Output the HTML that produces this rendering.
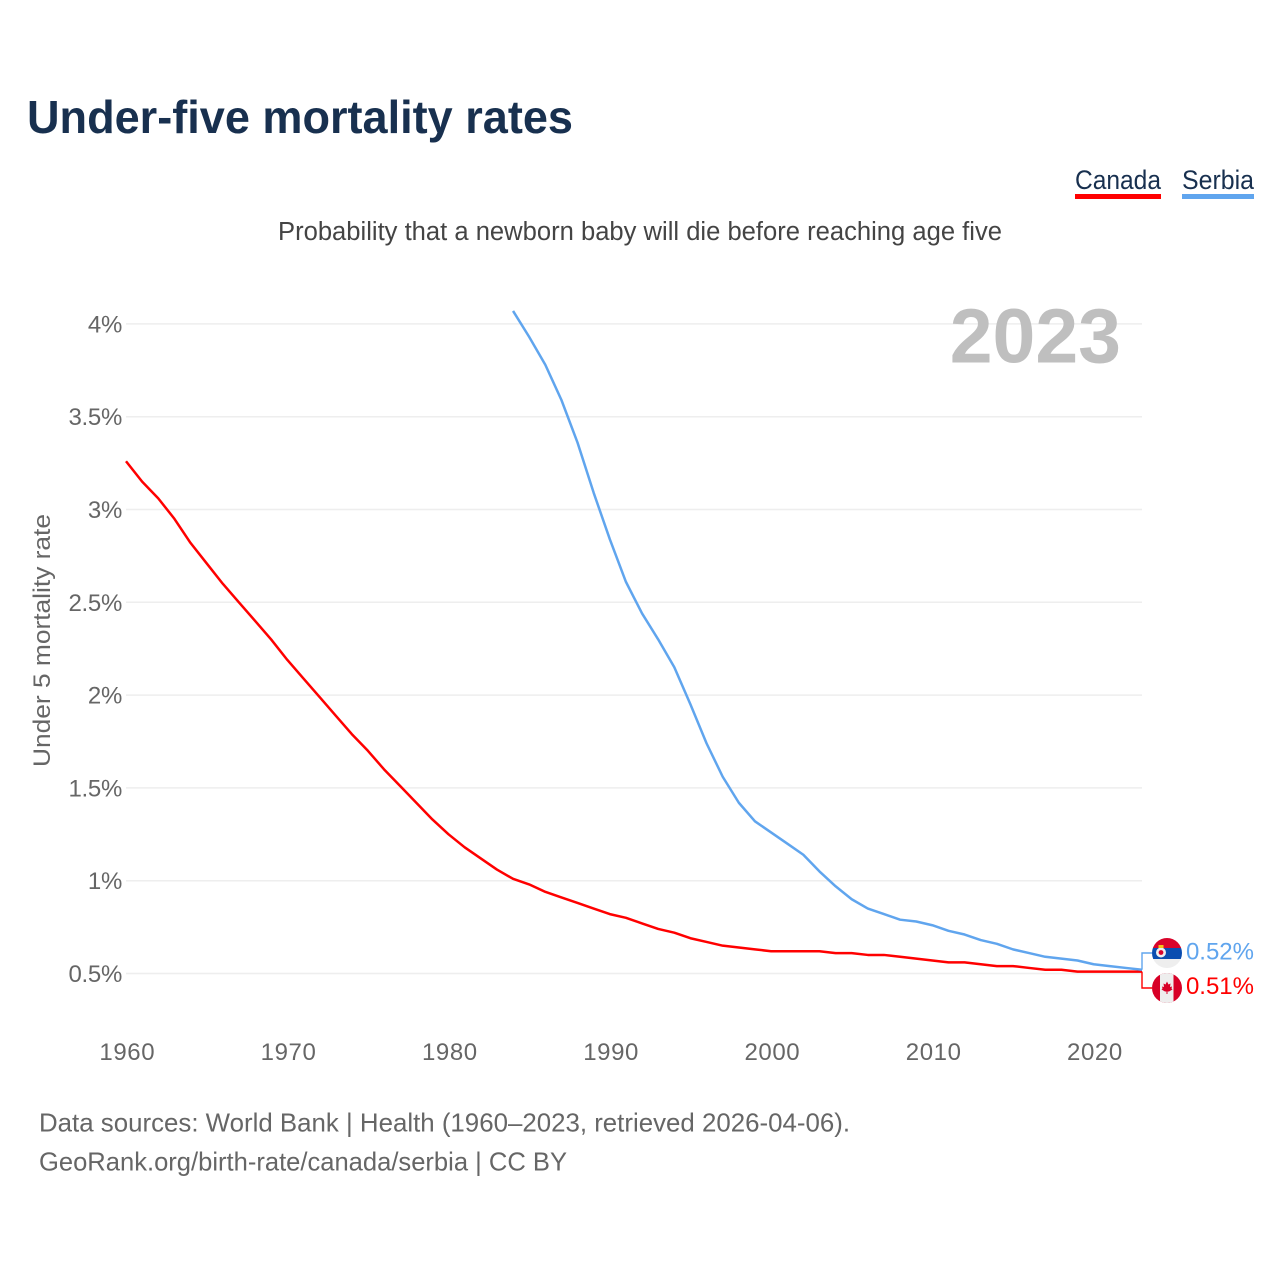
<!DOCTYPE html>
<html lang="en">
<head>
<meta charset="utf-8">
<title>Under-five mortality rates</title>
<style>
html,body{margin:0;padding:0;background:#fff;width:1280px;height:1280px;overflow:hidden}
svg{display:block;font-family:"Liberation Sans",sans-serif}
</style>
</head>
<body>
<svg id="chart" xmlns="http://www.w3.org/2000/svg" width="1280" height="1280" viewBox="0 0 1280 1280">
  <rect x="0" y="0" width="1280" height="1280" fill="#fff"/>
  <text x="27" y="133" font-size="46" font-weight="700" fill="#18304f" textLength="546" lengthAdjust="spacingAndGlyphs">Under-five mortality rates</text>
  <text x="278" y="240" font-size="25.5" fill="#444" textLength="724" lengthAdjust="spacingAndGlyphs">Probability that a newborn baby will die before reaching age five</text>

  <g>
    <text x="1075" y="189" font-size="27" fill="#18304f" textLength="86" lengthAdjust="spacingAndGlyphs">Canada</text>
    <rect x="1075" y="194" width="86" height="5" fill="#ff0000"/>
    <text x="1182" y="189" font-size="27" fill="#18304f" textLength="72" lengthAdjust="spacingAndGlyphs">Serbia</text>
    <rect x="1182" y="194" width="72" height="5" fill="#60a5ee"/>
  </g>

  <text transform="translate(50 640.5) rotate(-90)" text-anchor="middle" font-size="24.5" fill="#666" textLength="253" lengthAdjust="spacingAndGlyphs">Under 5 mortality rate</text>

  <g id="grid"></g>
  <g id="yticks"></g>
  <g id="xticks"></g>

  <text x="1121" y="362.5" text-anchor="end" font-size="77" font-weight="700" fill="#bfbfbf">2023</text>

  <g id="series"></g>

  <defs>
    <clipPath id="clip-rs"><circle cx="1167" cy="953" r="15"/></clipPath>
    <clipPath id="clip-ca"><circle cx="1167" cy="988" r="15"/></clipPath>
  </defs>
  <g id="flag-serbia" clip-path="url(#clip-rs)">
    <rect x="1152" y="938" width="30" height="10" fill="#d9042b"/>
    <rect x="1152" y="948" width="30" height="11" fill="#0a4db0"/>
    <rect x="1152" y="959" width="30" height="9" fill="#eeeeee"/>
    <circle cx="1161" cy="952.5" r="5" fill="#eee"/>
    <circle cx="1161" cy="952.5" r="2.4" fill="#d9042b"/>
    <rect x="1158.5" y="945" width="5" height="3" fill="#f5c518"/>
  </g>
  <g id="flag-canada" clip-path="url(#clip-ca)">
    <rect x="1152" y="973" width="30" height="30" fill="#d80027"/>
    <rect x="1160" y="973" width="13.5" height="30" fill="#eeeeee"/>
    <polygon points="1167,981.5 1168.5,984.5 1170.5,983.5 1170,987 1172,986.5 1171.5,988.5 1172.5,989.5 1169,991.5 1167.5,991.5 1167.5,994 1166.5,994 1166.5,991.5 1165,991.5 1161.5,989.5 1162.5,988.5 1162,986.5 1164,987 1163.5,983.5 1165.5,984.5" fill="#d80027"/>
  </g>
  <g id="end-labels"></g>

  <g>
    <text x="39" y="1131.5" font-size="26" fill="#666" textLength="811" lengthAdjust="spacingAndGlyphs">Data sources: World Bank | Health (1960–2023, retrieved 2026-04-06).</text>
    <text x="39" y="1170.5" font-size="26" fill="#666" textLength="528" lengthAdjust="spacingAndGlyphs">GeoRank.org/birth-rate/canada/serbia | CC BY</text>
  </g>
</svg>
<script>
const years = [1960,1961,1962,1963,1964,1965,1966,1967,1968,1969,1970,1971,1972,1973,1974,1975,1976,1977,1978,1979,1980,1981,1982,1983,1984,1985,1986,1987,1988,1989,1990,1991,1992,1993,1994,1995,1996,1997,1998,1999,2000,2001,2002,2003,2004,2005,2006,2007,2008,2009,2010,2011,2012,2013,2014,2015,2016,2017,2018,2019,2020,2021,2022,2023];
const canadaValues = [3.26,3.15,3.06,2.95,2.82,2.71,2.60,2.50,2.40,2.30,2.19,2.09,1.99,1.89,1.79,1.70,1.60,1.51,1.42,1.33,1.25,1.18,1.12,1.06,1.01,0.98,0.94,0.91,0.88,0.85,0.82,0.80,0.77,0.74,0.72,0.69,0.67,0.65,0.64,0.63,0.62,0.62,0.62,0.62,0.61,0.61,0.60,0.60,0.59,0.58,0.57,0.56,0.56,0.55,0.54,0.54,0.53,0.52,0.52,0.51,0.51,0.51,0.51,0.51];
const serbiaYears = [1984,1985,1986,1987,1988,1989,1990,1991,1992,1993,1994,1995,1996,1997,1998,1999,2000,2001,2002,2003,2004,2005,2006,2007,2008,2009,2010,2011,2012,2013,2014,2015,2016,2017,2018,2019,2020,2021,2022,2023];
const serbiaValues = [4.07,3.93,3.78,3.59,3.36,3.09,2.84,2.61,2.44,2.30,2.15,1.95,1.74,1.56,1.42,1.32,1.26,1.20,1.14,1.05,0.97,0.90,0.85,0.82,0.79,0.78,0.76,0.73,0.71,0.68,0.66,0.63,0.61,0.59,0.58,0.57,0.55,0.54,0.53,0.52];
const yTickValues = [0.5,1,1.5,2,2.5,3,3.5,4];
const yTickLabels = ['0.5%','1%','1.5%','2%','2.5%','3%','3.5%','4%'];
const xTickValues = [1960,1970,1980,1990,2000,2010,2020];

const SVGNS = 'http://www.w3.org/2000/svg';
const RED = '#ff0000';
const BLUE = '#60a5ee';
function xScale(year){ return 126 + (year - 1960) * (1142 - 126) / 63; }
function yScale(v){ return 973.5 - (v - 0.5) * 185.6; }
function make(tag, attrs, parent, text){
  const el = document.createElementNS(SVGNS, tag);
  for (const k in attrs) el.setAttribute(k, attrs[k]);
  if (text !== undefined) el.textContent = text;
  parent.appendChild(el);
  return el;
}
const gridG = document.getElementById('grid');
const yG = document.getElementById('yticks');
const xG = document.getElementById('xticks');
const seriesG = document.getElementById('series');
const labelG = document.getElementById('end-labels');

yTickValues.forEach(function(v, i){
  const line = make('line', {x1:126, x2:1142, y1:yScale(v), y2:yScale(v), stroke:'#eeeeee', 'stroke-width':1.5}, gridG);
  
  
  const t = make('text', {x:122, y:yScale(v)+8.5, 'text-anchor':'end', 'font-size':24, 'letter-spacing':-0.3, fill:'#666'}, yG, yTickLabels[i]);
  
  
});
xTickValues.forEach(function(yr){
  const t = make('text', {x:xScale(yr)+1.3, y:1060, 'text-anchor':'middle', 'font-size':24, 'letter-spacing':0.6, fill:'#666'}, xG, String(yr));
  
  
});
function pathFor(xs, vs){
  return xs.map(function(yr, i){ return (i ? 'L' : 'M') + xScale(yr).toFixed(2) + ' ' + yScale(vs[i]).toFixed(2); }).join(' ');
}
const canadaLine = make('path', {d:pathFor(years, canadaValues), fill:'none', stroke:RED, 'stroke-width':2.5, 'stroke-linejoin':'round'}, seriesG);


const serbiaLine = make('path', {d:pathFor(serbiaYears, serbiaValues), fill:'none', stroke:BLUE, 'stroke-width':2.5, 'stroke-linejoin':'round'}, seriesG);



const lastSerbia = serbiaValues[serbiaValues.length - 1];
const lastCanada = canadaValues[canadaValues.length - 1];
const serbiaEnd = yScale(lastSerbia);
const canadaEnd = yScale(lastCanada);
const c1 = make('path', {d:'M1142 '+serbiaEnd+' V953 H1152', fill:'none', stroke:BLUE, 'stroke-width':1.4}, labelG);


const c2 = make('path', {d:'M1142 '+canadaEnd+' V988 H1152', fill:'none', stroke:RED, 'stroke-width':1.4}, labelG);


const l1 = make('text', {x:1254, y:959.5, 'text-anchor':'end', 'font-size':24, fill:BLUE}, labelG, lastSerbia + '%');


const l2 = make('text', {x:1254, y:994, 'text-anchor':'end', 'font-size':24, fill:RED}, labelG, lastCanada + '%');


</script>
</body>
</html>
